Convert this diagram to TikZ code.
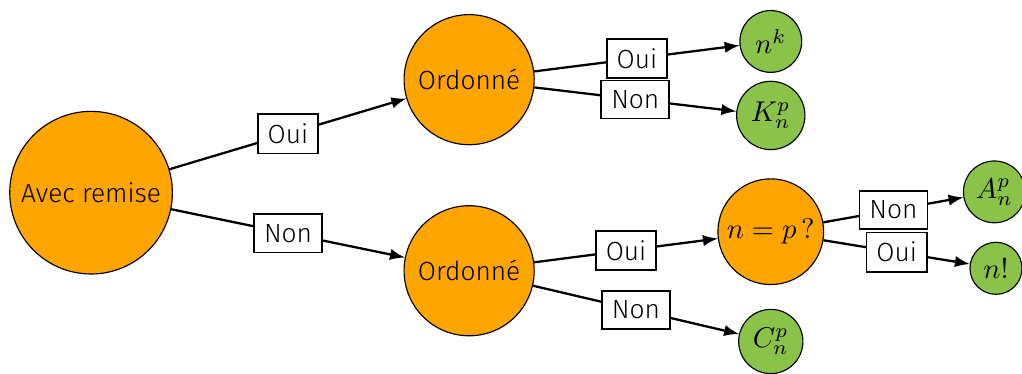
\documentclass[tikz,border=0pt]{standalone}
\usepackage{amssymb}
\usepackage{amsmath}
\usepackage{xcolor}
\usepackage{fontspec}
\setmainfont{Fira Sans Light}
\usepackage{tikz}

\definecolor{orangeq}{RGB}{255,165,0}
\definecolor{vertf}{RGB}{139,195,74}

\begin{document}
\begin{tikzpicture}[
    font=\fontsize{9.2}{11}\selectfont,
    question/.style={circle,draw,fill=orangeq,inner sep=0pt},
    feuille/.style={circle,draw,fill=vertf,inner sep=0pt,font=\normalsize},
    rep/.style={draw,semithick,fill=white,inner xsep=3.5pt,minimum height=13.3pt},
    fleche/.style={thick,-latex}
]
            \useasboundingbox (-1.12,2.37) rectangle (11.45,-2.23);

            \node[question,minimum size=2cm] at (0,0) (R) {Avec remise};
            \node[question,minimum size=1.6cm] at (4.65,1.39) (O1) {Ordonné};
            \node[question,minimum size=1.6cm] at (4.65,-0.96) (O2) {Ordonné};
            \node[question,minimum size=1.3cm,font=\normalsize] at (8.36,-0.48) (E) {$n=p\,?$};

            \node[feuille,minimum size=0.76cm] at (8.36,1.86) (nk) {$n^k$};
            \node[feuille,minimum size=0.84cm] at (8.36,0.95) (K) {$K_n^p$};
            \node[feuille,minimum size=0.79cm] at (8.36,-1.83) (C) {$C_n^p$};
            \node[feuille,minimum size=0.76cm] at (11.11,0.01) (A) {$A_n^p$};
            \node[feuille,minimum size=0.64cm] at (11.13,-0.93) (F) {$n!$};

            \draw[fleche] (R) -- node[rep,midway] {Oui} (O1);
            \draw[fleche] (R) -- node[rep,midway] {Non} (O2);
            \draw[fleche] (O1) -- node[rep,midway] {Oui} (nk);
            \draw[fleche] (O1) -- node[rep,midway] {Non} (K);
            \draw[fleche] (O2) -- node[rep,midway] {Oui} (E);
            \draw[fleche] (O2) -- node[rep,midway] {Non} (C);
            \draw[fleche] (E) -- node[rep,midway] {Non} (A);
            \draw[fleche] (E) -- node[rep,midway] {Oui} (F);
        \end{tikzpicture}
\end{document}
